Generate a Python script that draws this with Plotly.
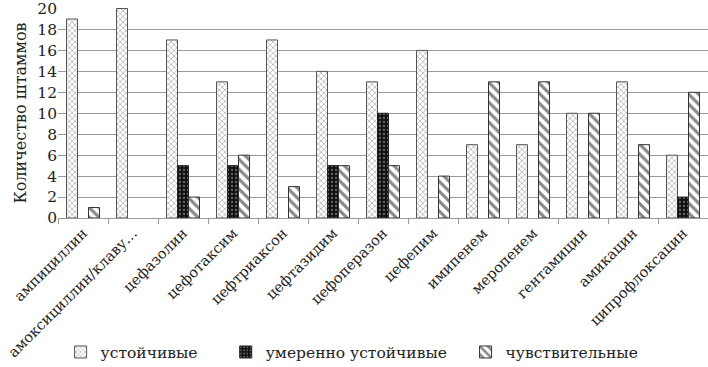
import plotly.graph_objects as go

# данные
drugs = ["ампициллин", "амоксициллин/клаву…", "цефазолин", "цефотаксим",
         "цефтриаксон", "цефтазидим", "цефоперазон", "цефепим", "имипенем",
         "меропенем", "гентамицин", "амикацин", "ципрофлоксацин"]
resistant = [19, 20, 17, 13, 17, 14, 13, 16, 7, 7, 10, 13, 6]
moderate = [0, 0, 5, 5, 0, 5, 10, 0, 0, 0, 0, 0, 2]
sensitive = [1, 0, 2, 6, 3, 5, 5, 4, 13, 13, 10, 7, 12]

font_family = "DejaVu Serif"


def nz(vals):
    # нулевые столбики не рисуем
    return [v if v else None for v in vals]


fig = go.Figure()

fig.add_trace(go.Bar(
    x=drugs, y=nz(resistant), name="устойчивые", legend="legend",
    marker=dict(color="white", line=dict(color="#555", width=1),
                pattern=dict(shape="x", fgcolor="#7a7a7a", bgcolor="white",
                             size=4, solidity=0.4))
))
fig.add_trace(go.Bar(
    x=drugs, y=nz(moderate), name="умеренно устойчивые", legend="legend2",
    marker=dict(color="#111", line=dict(color="#222", width=1),
                pattern=dict(shape=".", fgcolor="#bbb", bgcolor="#111",
                             size=4, solidity=0.25))
))
fig.add_trace(go.Bar(
    x=drugs, y=nz(sensitive), name="чувствительные", legend="legend3",
    marker=dict(color="white", line=dict(color="#333", width=1),
                pattern=dict(shape="\\", fgcolor="#111", bgcolor="white",
                             size=7, solidity=0.45))
))

leg = dict(visible=True, orientation="h", yanchor="middle", y=-0.64,
           xanchor="left",
           font=dict(family=font_family, size=15.5, color="#222"),
           bgcolor="rgba(0,0,0,0)", itemwidth=30)

fig.update_layout(
    width=708, height=367,
    margin=dict(l=58, r=0, t=8, b=149, autoexpand=False),
    plot_bgcolor="white", paper_bgcolor="white",
    barmode="group", bargap=0.34, bargroupgap=0,
    font=dict(family=font_family, size=15, color="#222"),
    showlegend=True,
    legend=dict(leg, x=0.004),
    legend2=dict(leg, x=0.258),
    legend3=dict(leg, x=0.627),
    xaxis=dict(
        tickangle=-45, tickson="boundaries", ticks="outside", ticklen=5,
        tickcolor="#999", showline=True, linecolor="#999", linewidth=1,
        automargin=False,
        tickfont=dict(family=font_family, size=14.5, color="#222"),
    ),
    yaxis=dict(
        range=[0, 20.05], tickvals=list(range(0, 21, 2)), showgrid=True,
        gridcolor="#999", gridwidth=1, automargin=False,
        zeroline=False, ticks="", showline=False, ticklabeloverflow="allow",
        tickfont=dict(family=font_family, size=15.5, color="#222"),
        title=dict(text="Количество штаммов", standoff=6,
                   font=dict(family=font_family, size=16, color="#222")),
    ),
)

# убираем отступ страницы, чтобы график встал ровно в окно
fig.write_html("out.html", config={"displayModeBar": False},
               post_script="document.body.style.margin='0';")
